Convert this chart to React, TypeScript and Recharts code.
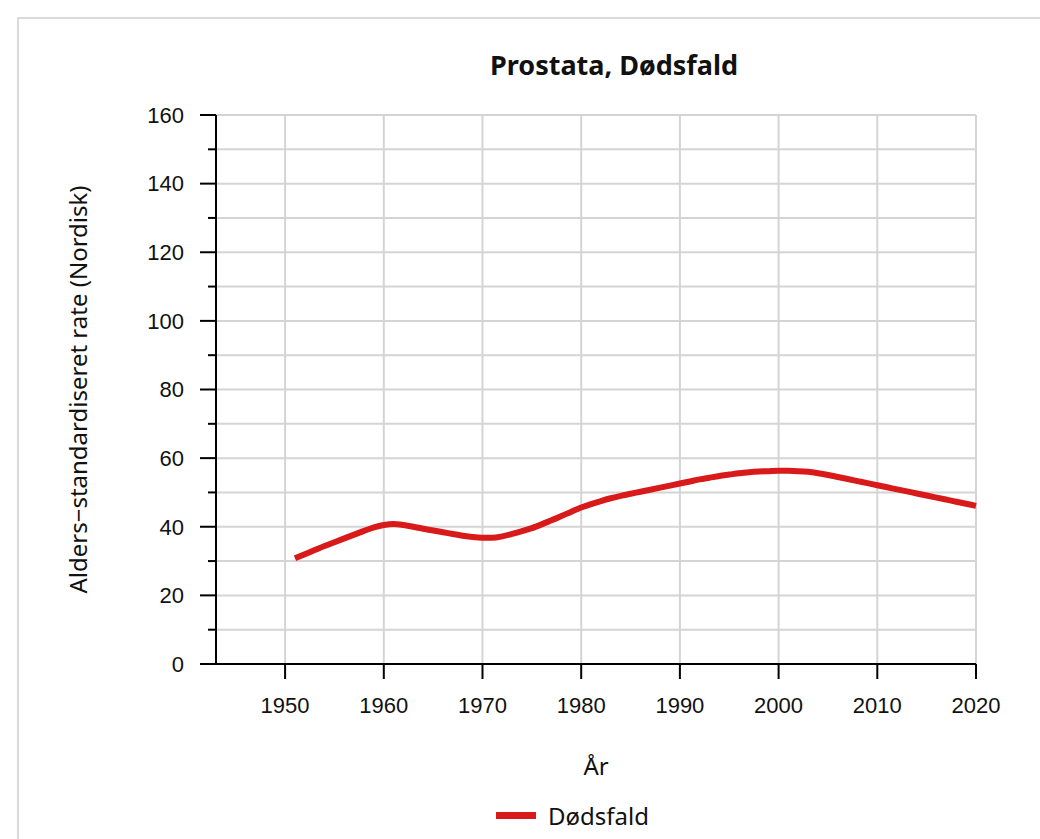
import React from 'react';
import { LineChart, Line, XAxis, YAxis, CartesianGrid, Legend } from 'recharts';

const years = [
  1951, 1952, 1953, 1954, 1955, 1956, 1957, 1958, 1959, 1960,
  1961, 1962, 1963, 1964, 1965, 1966, 1967, 1968, 1969, 1970,
  1971, 1972, 1973, 1974, 1975, 1976, 1977, 1978, 1979, 1980,
  1981, 1982, 1983, 1984, 1985, 1986, 1987, 1988, 1989, 1990,
  1991, 1992, 1993, 1994, 1995, 1996, 1997, 1998, 1999, 2000,
  2001, 2002, 2003, 2004, 2005, 2006, 2007, 2008, 2009, 2010,
  2011, 2012, 2013, 2014, 2015, 2016, 2017, 2018, 2019, 2020,
];

const deaths = [
  30.8, 32.0, 33.2, 34.4, 35.5, 36.6, 37.7, 38.8, 39.8, 40.5,
  40.8, 40.5, 40.0, 39.4, 38.9, 38.4, 37.9, 37.4, 37.0, 36.8,
  36.8, 37.2, 37.9, 38.7, 39.6, 40.7, 41.9, 43.1, 44.4, 45.6,
  46.6, 47.5, 48.3, 49.0, 49.6, 50.2, 50.8, 51.4, 52.0, 52.6,
  53.2, 53.8, 54.3, 54.8, 55.2, 55.6, 55.9, 56.1, 56.2, 56.3,
  56.3, 56.2, 56.0, 55.6, 55.1, 54.5, 53.9, 53.3, 52.7, 52.1,
  51.5, 50.9, 50.3, 49.7, 49.1, 48.5, 47.9, 47.3, 46.7, 46.1,
];

const xTicks = [1950, 1960, 1970, 1980, 1990, 2000, 2010, 2020];
const yTicks = [0, 10, 20, 30, 40, 50, 60, 70, 80, 90, 100, 110, 120, 130, 140, 150, 160];

const data = years.map((year, i) => ({ year, value: deaths[i] }));

const RED = '#d91a1a';
const NOTO = '"Noto Sans", "Open Sans", sans-serif';
const ARIAL = '"Liberation Sans", Arial, sans-serif';

const YTick = (props: any) => {
  const { x, y, payload } = props;
  const major = payload.value % 20 === 0;
  const axisX = x + 32;
  return (
    <g>
      <line x1={axisX - (major ? 16 : 8)} x2={axisX} y1={y} y2={y} stroke="#000" strokeWidth={2} />
      {major && (
        <text x={x} y={y} dy="0.355em" textAnchor="end" fontFamily={ARIAL} fontSize={22} fill="#111">
          {payload.value}
        </text>
      )}
    </g>
  );
};

const YLabel = (props: any) => {
  const { viewBox } = props;
  const cy = viewBox.y + viewBox.height / 2;
  return (
    <text
      x={77}
      y={cy}
      transform={`rotate(-90, 77, ${cy})`}
      textAnchor="middle"
      dominantBaseline="central"
      fontFamily={NOTO}
      fontSize={24}
      fill="#111"
    >
      Alders−standardiseret rate (Nordisk)
    </text>
  );
};

const XLabel = (props: any) => {
  const { viewBox } = props;
  const cx = viewBox.x + viewBox.width / 2;
  return (
    <text x={cx} y={viewBox.y + 101} textAnchor="middle" dominantBaseline="central" fontFamily={NOTO} fontSize={24} fill="#111">
      År
    </text>
  );
};

const LegendBox = () => (
  <div style={{ display: 'flex', alignItems: 'center', height: 30 }}>
    <svg width={40} height={8} style={{ display: 'block' }}>
      <rect x={0} y={0} width={40} height={7} fill={RED} />
    </svg>
    <span style={{ marginLeft: 12, fontFamily: NOTO, fontSize: 24, color: '#111', lineHeight: '30px' }}>
      Dødsfald
    </span>
  </div>
);

export default function App() {
  return (
    <div style={{ position: 'absolute', top: 0, left: 0, width: 1040, height: 839, overflow: 'hidden', background: '#fff' }}>
      <div
        style={{
          position: 'absolute',
          left: 17,
          top: 17,
          width: 1100,
          height: 900,
          border: '2px solid #dadada',
        }}
      />
      <div
        style={{
          position: 'absolute',
          left: 0,
          top: 46,
          width: 1228,
          textAlign: 'center',
          fontFamily: NOTO,
          fontWeight: 700,
          fontSize: 27,
          color: '#111',
          lineHeight: '38px',
        }}
      >
        Prostata, Dødsfald
      </div>
      <div style={{ position: 'absolute', left: 0, top: 0 }}>
        <LineChart width={1040} height={839} data={data} margin={{ top: 115, right: 64, bottom: 8, left: 116 }}>
          <CartesianGrid stroke="#d4d4d4" strokeWidth={2} />
          <XAxis
            dataKey="year"
            type="number"
            domain={[1943, 2020]}
            ticks={xTicks}
            interval={0}
            height={137}
            tickSize={15}
            tickMargin={18}
            axisLine={{ stroke: '#000', strokeWidth: 2 }}
            tickLine={{ stroke: '#000', strokeWidth: 2 }}
            tick={{ fontFamily: ARIAL, fontSize: 22, fill: '#111' }}
            label={<XLabel />}
          />
          <YAxis
            type="number"
            domain={[0, 160]}
            ticks={yTicks}
            interval={0}
            width={100}
            tickSize={16}
            tickMargin={16}
            axisLine={{ stroke: '#000', strokeWidth: 2 }}
            tickLine={false}
            tick={<YTick />}
            label={<YLabel />}
          />
          <Legend
            verticalAlign="bottom"
            align="left"
            wrapperStyle={{ left: 496, bottom: 8, width: 300, height: 30 }}
            content={() => <LegendBox />}
          />
          <Line
            type="monotone"
            dataKey="value"
            stroke={RED}
            strokeWidth={6}
            dot={false}
            activeDot={false}
            isAnimationActive={false}
          />
        </LineChart>
      </div>
    </div>
  );
}
